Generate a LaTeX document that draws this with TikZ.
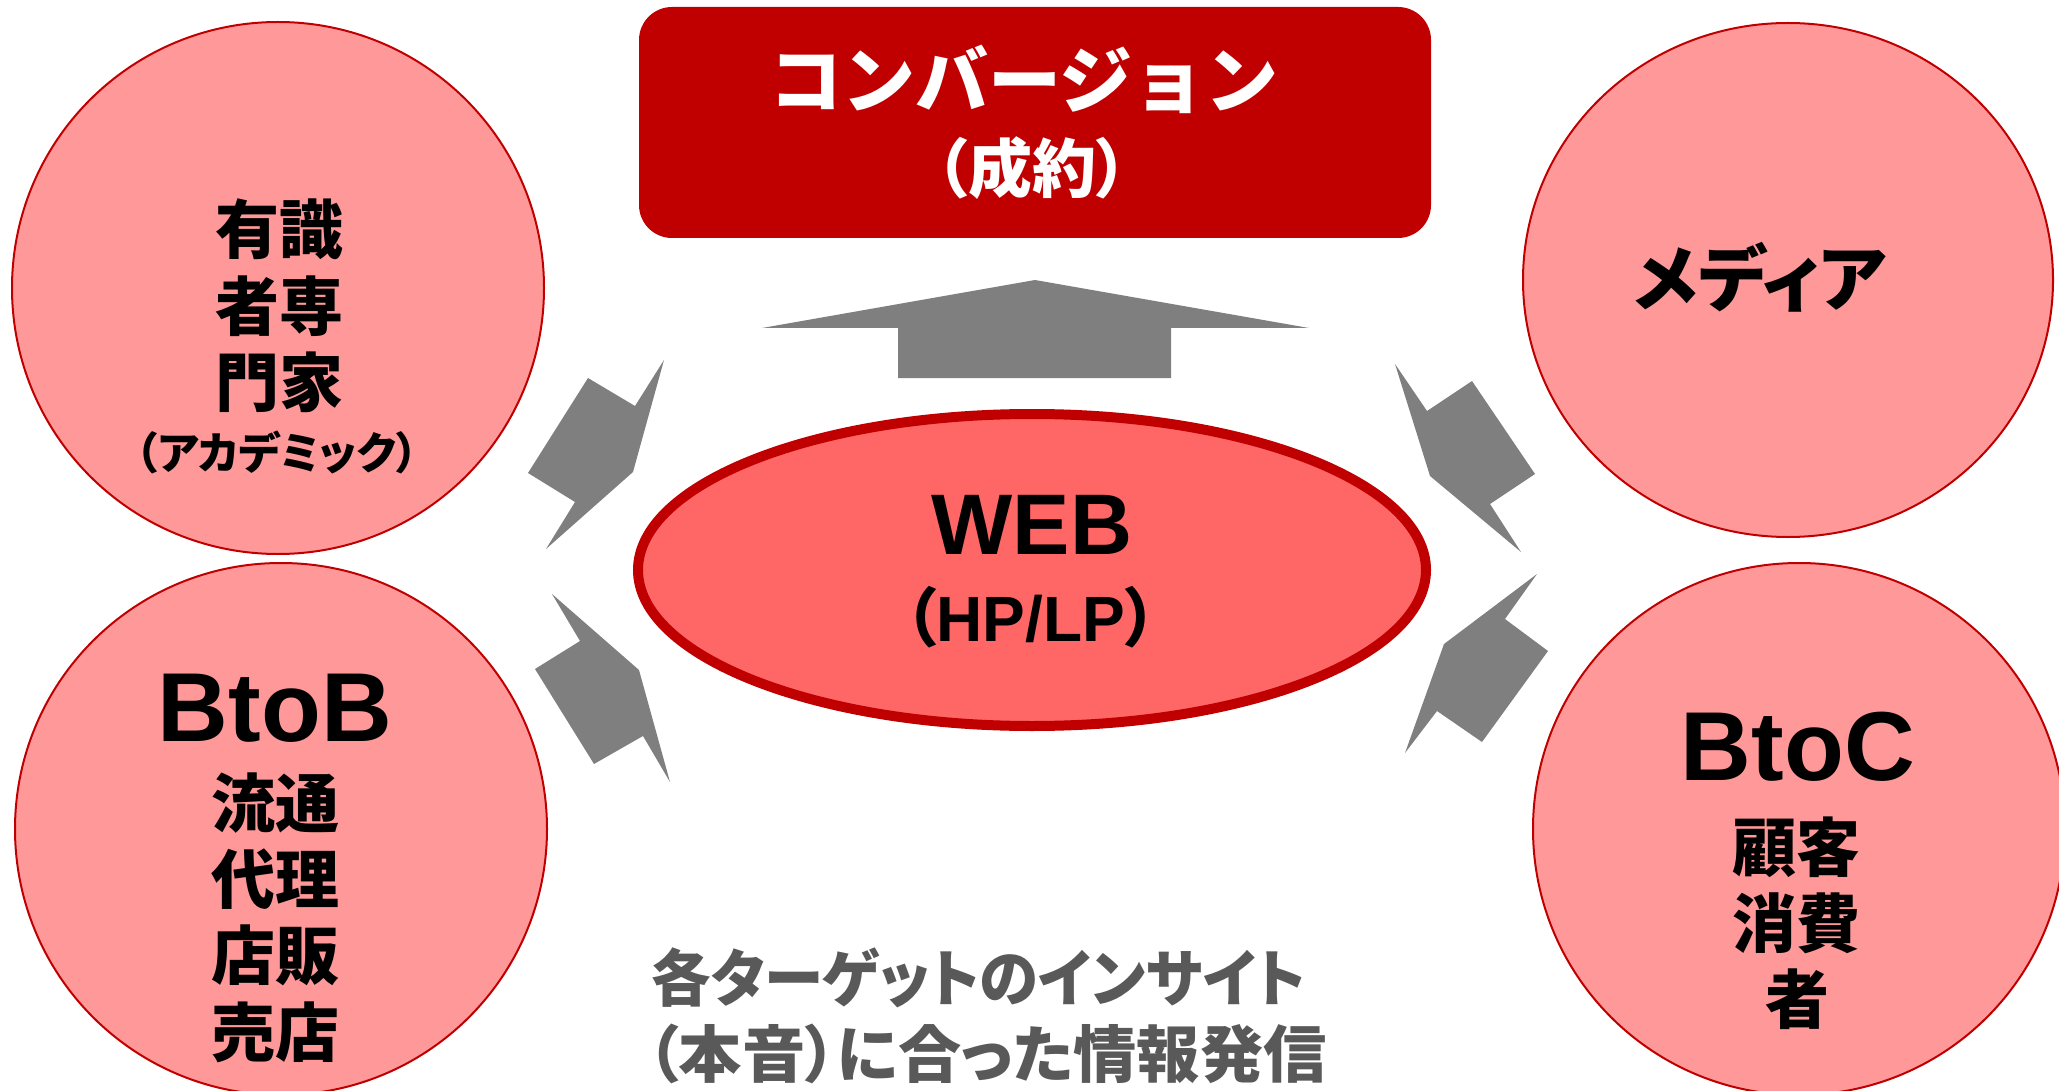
\documentclass[tikz,border=0pt]{standalone}
\usepackage{fontspec}
\usetikzlibrary{shapes.geometric}
\newfontfamily\jp{Noto Sans CJK JP}
\newfontfamily\jpp{Noto Sans CJK JP}[RawFeature=+palt]
\newfontfamily\ar{Liberation Sans}
\definecolor{dred}{HTML}{C00000}
\definecolor{lpink}{HTML}{FF9999}
\definecolor{wred}{HTML}{FF6666}
\definecolor{agray}{HTML}{7F7F7F}
\definecolor{tgray}{HTML}{595959}
\tikzset{
  target/.style={circle, draw=dred, line width=2pt, fill=lpink, inner sep=0pt, minimum size=532pt},
  blockarrow/.style={fill=agray, draw=none},
  jtxt/.style={inner sep=0pt, font=\jp\bfseries\fontsize{64}{64}\selectfont},
  ltxt/.style={inner sep=0pt, font=\ar\bfseries\fontsize{98}{98}\selectfont},
  captxt/.style={inner sep=0pt, anchor=west, text=tgray, font=\jpp\bfseries\fontsize{62}{62}\selectfont},
}
\begin{document}
\begin{tikzpicture}[x=1pt,y=-1pt]
\useasboundingbox (0,0) rectangle (2059,1091);
% conversion box
\node[rectangle, rounded corners=33pt, fill=dred, minimum width=792pt, minimum height=231pt, inner sep=0pt] (conv) at (1035,122.5) {};
\node[inner sep=0pt, text=white, font=\jp\bfseries\fontsize{73}{73}\selectfont] (convt) at (1024,79) {コンバージョン};
\node[inner sep=0pt, text=white, font=\jpp\bfseries\fontsize{64}{64}\selectfont] (convs) at (1032,168) {（成約）};
% circles
\node[target] (tl) at (278,288) {};
\node[target] (bl) at (281,829) {};
\node[target, ellipse, minimum width=530pt, minimum height=514pt] (tr) at (1788,280) {};
\node[target] (br) at (1799,829) {};
% web ellipse
\node[ellipse, draw=dred, line width=10pt, fill=wred, minimum width=788pt, minimum height=312pt, inner sep=0pt] (web) at (1032,570) {};
\node[inner sep=0pt, font=\ar\bfseries\fontsize{86}{86}\selectfont] (webt) at (1032,525) {WEB};
\node[inner sep=0pt, font=\ar\bfseries\fontsize{64}{64}\selectfont] (webs) at (1031,617) {{\jpp（}HP/LP{\jpp）}};
% arrows
\fill[blockarrow] (1035,280) -- (1309,328) -- (1171,328) -- (1171,378) -- (898,378) -- (898,328) -- (762,328) -- cycle;
\fill[blockarrow] (633,472) -- (664,360) -- (635,406) -- (588,378) -- (528,473) -- (575,502) -- (546,549) -- cycle;
\fill[blockarrow] (639,670) -- (552,594) -- (580,641) -- (535,669) -- (594,764) -- (643,736) -- (670,782) -- cycle;
\fill[blockarrow] (1430,476) -- (1395,364) -- (1427,411) -- (1472,381) -- (1535,474) -- (1490,504) -- (1521,552) -- cycle;
\fill[blockarrow] (1444,644) -- (1537,574) -- (1505,619) -- (1548,651) -- (1482,742) -- (1437,711) -- (1405,753) -- cycle;
% top-left texts
\node[jtxt] (tl1) at (279,229) {有識};
\node[jtxt] (tl2) at (279,306) {者専};
\node[jtxt] (tl3) at (279,382) {門家};
\node[inner sep=0pt, font=\jpp\bfseries\fontsize{44}{44}\selectfont] (tl4) at (277,452) {（アカデミック）};
% top-right
\node[inner sep=0pt, font=\jpp\bfseries\fontsize{72}{72}\selectfont] (tr1) at (1760,277) {メディア};
% bottom-left
\node[ltxt] (bl0) at (275,708) {BtoB};
\node[jtxt] (bl1) at (275,803) {流通};
\node[jtxt] (bl2) at (275,879) {代理};
\node[jtxt] (bl3) at (275,955) {店販};
\node[jtxt] (bl4) at (275,1032) {売店};
% bottom-right
\node[ltxt] (br0) at (1798,747) {BtoC};
\node[jtxt] (br1) at (1796,847) {顧客};
\node[jtxt] (br2) at (1796,923) {消費};
\node[jtxt] (br3) at (1797,999) {者};
% bottom caption
\node[captxt] (cap1) at (651,978) {\scalebox{0.96}[1]{各ターゲットのインサイト}};
\node[captxt] (cap2) at (647,1054) {\scalebox{1.02}[1]{（本音）に合った情報発信}};
\end{tikzpicture}
\end{document}
